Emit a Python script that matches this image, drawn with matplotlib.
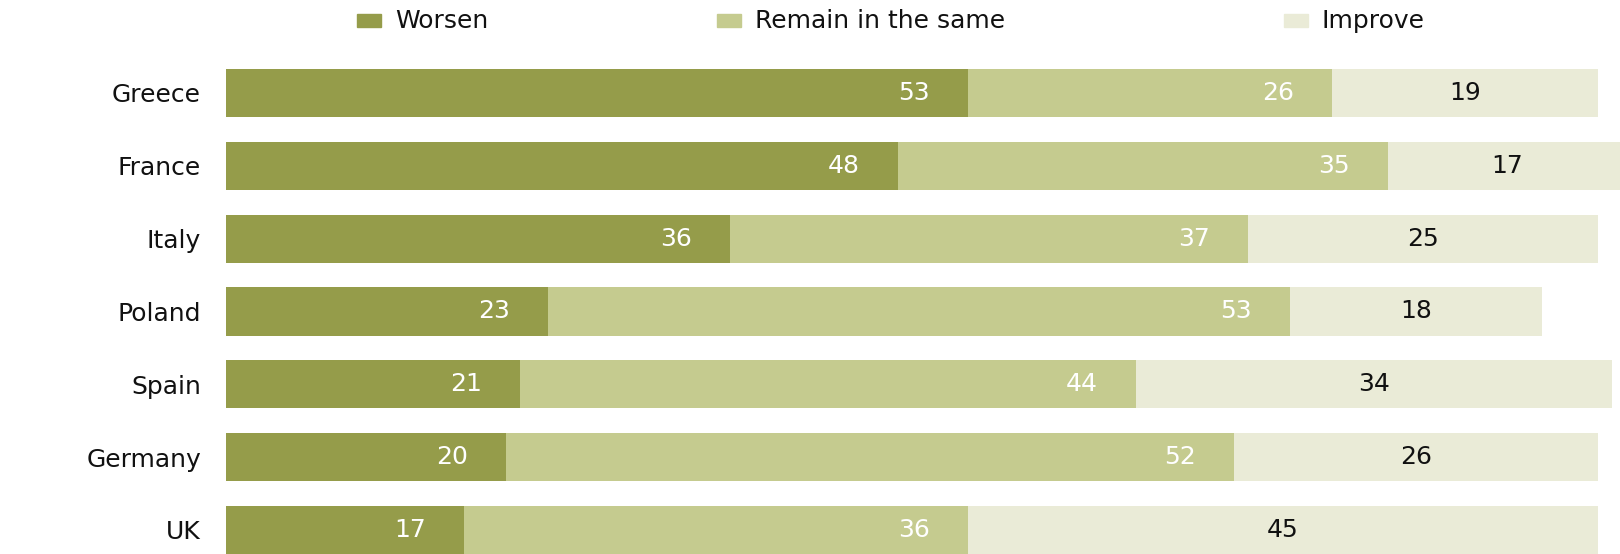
import matplotlib.pyplot as plt
from matplotlib.patches import Rectangle

# -----------------------------
# DATA
# -----------------------------
countries = ["Greece", "France", "Italy", "Poland", "Spain", "Germany", "UK"]
worsen = [53, 48, 36, 23, 21, 20, 17]
remain = [26, 35, 37, 53, 44, 52, 36]
improve = [19, 17, 25, 18, 34, 26, 45]
series_names = ["Worsen", "Remain in the same", "Improve"]

colors = ["#959c4a", "#c5cb8f", "#eaebd7"]

# -----------------------------
# FIGURE
# -----------------------------
W, H = 1620, 554
fig = plt.figure(figsize=(W / 100, H / 100), dpi=100)
left_px, top_px = 226, 60
ax = fig.add_axes([left_px / W, 0, 1 - left_px / W, (H - top_px) / H])

y = list(range(len(countries)))
bar_h = 0.66

lefts = [0] * len(countries)
for i, (vals, col) in enumerate(zip([worsen, remain, improve], colors)):
    ax.barh(y, vals, left=lefts, height=bar_h, color=col, edgecolor="none")
    for yi, v, l in zip(y, vals, lefts):
        if i < 2:
            ax.text(l + v - 2.7, yi, str(v), ha="right", va="center",
                    color="white", fontsize=18)
        else:
            ax.text(l + v / 2, yi, str(v), ha="center", va="center",
                    color="#111111", fontsize=18)
    lefts = [a + b for a, b in zip(lefts, vals)]

ax.set_xlim(0, (W - left_px) / 14)
ax.set_ylim(6 + bar_h / 2, -(93 - top_px) / 72.9)
ax.set_yticks(y)
ax.set_yticklabels(countries, fontsize=18, color="#111111")
ax.tick_params(axis="y", length=0, pad=18)
ax.set_xticks([])
for s in ax.spines.values():
    s.set_visible(False)

# -----------------------------
# LEGEND (manual, top row)
# -----------------------------
legend_x = [357, 717, 1284]
for x, name, col in zip(legend_x, series_names, colors):
    fig.patches.append(Rectangle((x / W, 1 - 27 / H), 24 / W, 13 / H,
                                 transform=fig.transFigure, color=col))
    fig.text((x + 38) / W, 1 - 21 / H, name, ha="left", va="center",
             fontsize=18, color="#111111")

fig.savefig("out.png", dpi=100)
